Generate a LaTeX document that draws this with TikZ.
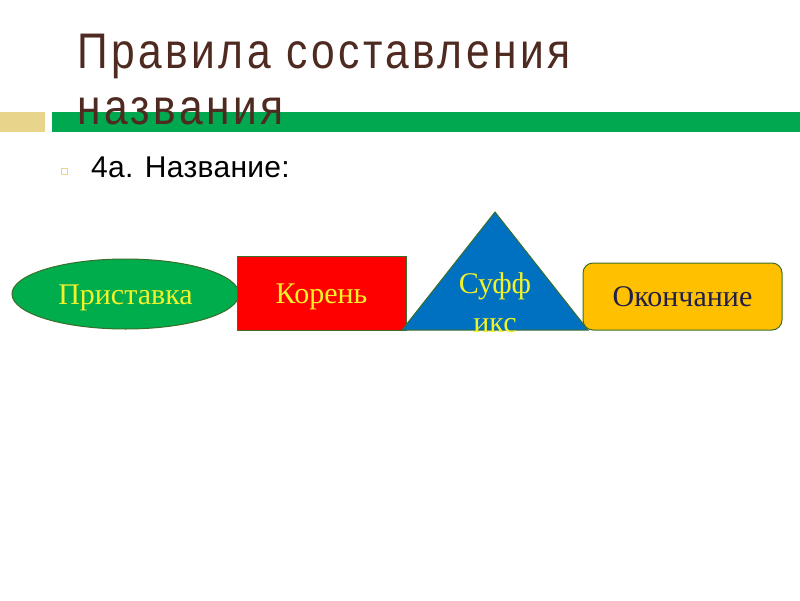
\documentclass[tikz,border=0pt]{standalone}
\usepackage{fontspec}
\setmainfont{Liberation Serif}
\newfontfamily\headfont[FakeStretch=0.85, LetterSpace=7]{Liberation Sans}
\newfontfamily\introfont[LetterSpace=1]{Liberation Sans}
\usetikzlibrary{shapes.geometric}

\definecolor{titlebrown}{HTML}{4E2A20}
\definecolor{barcream}{HTML}{E9D48C}
\definecolor{bargreen}{HTML}{00A94F}
\definecolor{partedge}{HTML}{3B6E2A}
\definecolor{partyellow}{HTML}{F2F22A}
\definecolor{prefgreen}{HTML}{00AD4C}
\definecolor{rootred}{HTML}{FF0000}
\definecolor{sufblue}{HTML}{0070C0}
\definecolor{endorange}{HTML}{FFC000}
\definecolor{endnavy}{HTML}{1F1F4A}

\begin{document}
\begin{tikzpicture}[x=1pt, y=-1pt,
  every node/.style={inner sep=0pt},
  head/.style={anchor=base west, text=titlebrown, font=\headfont\fontsize{50}{56}\selectfont},
  part/.style={draw=partedge, line width=1pt, text height=20pt, text depth=0pt,
    font=\fontsize{30}{36}\selectfont},
  suftext/.style={anchor=base, text=partyellow, font=\fontsize{30}{36}\selectfont}]

  \useasboundingbox (0,0) rectangle (800,600);

  % header bar and title
  \fill[barcream] (0,112) rectangle (45,132);
  \fill[bargreen] (52,112) rectangle (800,132);
  \node[head] (title) at (77,68) {Правила составления};
  \node[head] (titleb) at (77,124) {названия};

  % bullet line
  \draw[barcream, line width=0.7pt] (61.5,168.5) rectangle (67.5,174.5);
  \node[anchor=base west, font=\introfont\fontsize{30}{36}\selectfont] (intro) at (91,177) {4а. Название:};

  % parts of the word
  \node[part, ellipse, fill=prefgreen, minimum width=227pt, minimum height=70pt, text=partyellow] (prefix) at (125.5,294) {Приставка};
  \node[part, rectangle, fill=rootred, minimum width=169pt, minimum height=74pt, text=partyellow] (root) at (321.5,293) {Корень};
  \filldraw[draw=partedge, line width=1pt, fill=sufblue] (402,330) -- (495,212) -- (588,330) -- cycle;
  \node[suftext] (sufa) at (495,293) {Суфф};
  \node[suftext] (sufb) at (495,332) {икс};
  \node[part, rectangle, rounded corners=10pt, fill=endorange, minimum width=199pt, minimum height=67pt, text=endnavy] (ending) at (682.5,296.5) {Окончание};
\end{tikzpicture}
\end{document}
